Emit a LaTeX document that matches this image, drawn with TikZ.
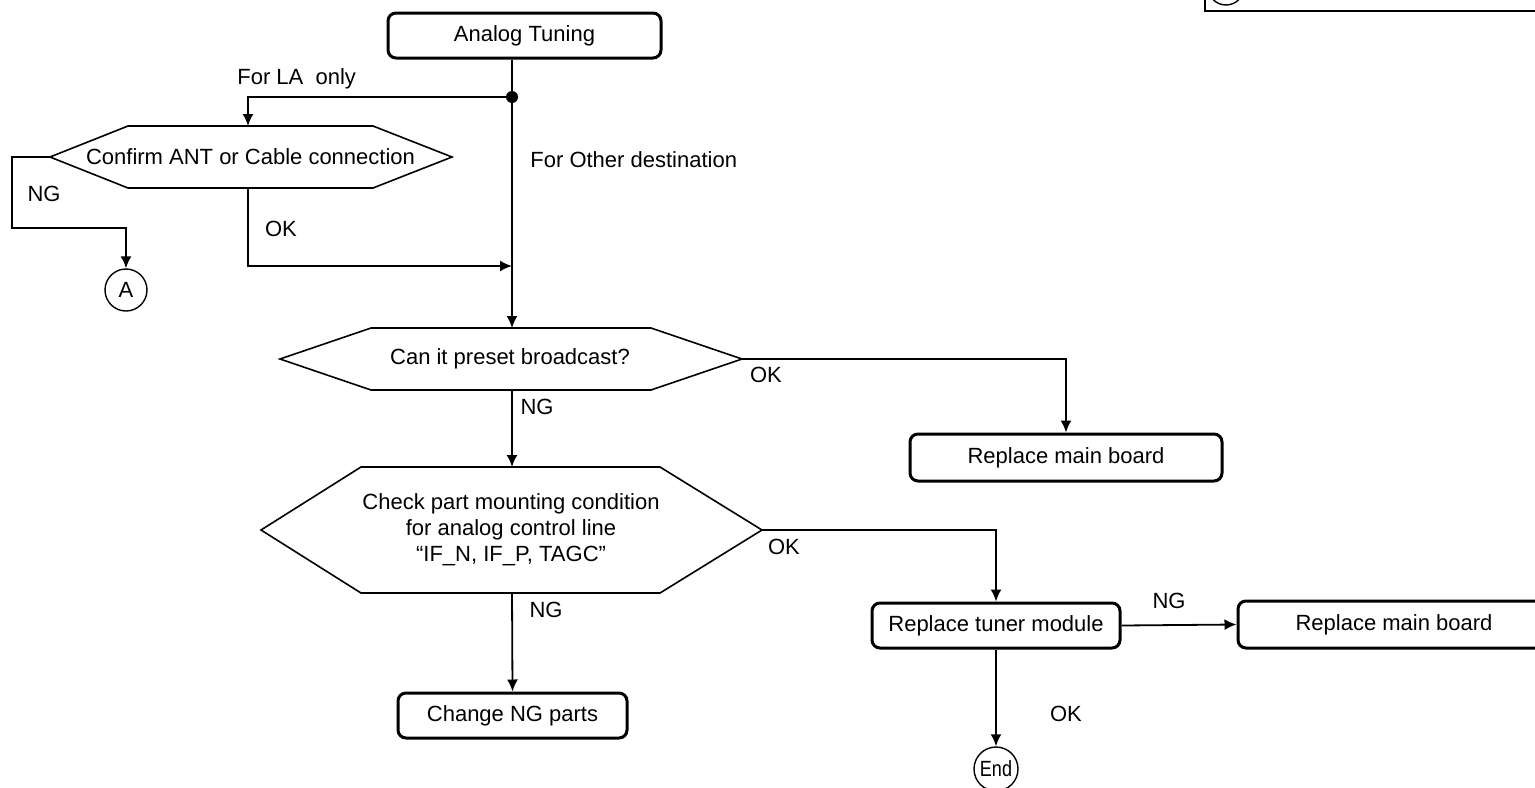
\documentclass[tikz,border=0pt]{standalone}
\usepackage{fontspec}
\usepackage{graphicx}
\setmainfont{Liberation Sans}
\usetikzlibrary{arrows.meta,calc}
\begin{document}
\begin{tikzpicture}[x=0.5pt,y=-0.5pt,
  every node/.style={font=\fontsize{11}{13}\selectfont},
  procbox/.style={draw, line width=1.5pt, rounded corners=4pt, inner sep=0pt},
  hexline/.style={line width=0.8pt},
  conn/.style={line width=0.9pt},
  arr/.style={conn,-{Latex[length=6pt,width=5.5pt]}},
  lbl/.style={inner sep=0pt},
  termc/.style={draw, circle, line width=0.7pt, minimum size=21pt, inner sep=0pt}]
\useasboundingbox (0,0) rectangle (1535,787);

% legend box (cut off)
\draw[line width=0.9pt] (1205,-40) rectangle (1600,11);
\draw[line width=0.7pt] (1226,-13) circle (9pt);

% process boxes
\node[procbox, minimum width=136.5pt, minimum height=22.5pt] (analog) at (524.5,35.5) {Analog Tuning};
\node[procbox, minimum width=156pt, minimum height=23.5pt] (rmb1) at (1066,457.5) {Replace main board};
\node[procbox, minimum width=114.5pt, minimum height=22.5pt] (ngp) at (512.5,715.5) {Change NG parts};
\node[procbox, minimum width=124pt, minimum height=22.5pt] (tuner) at (996,625.5) {Replace tuner module};
\node[procbox, minimum width=156pt, minimum height=23.5pt] (rmb2) at (1394,624.5) {Replace main board};

% terminals
\node[termc] (A) at (126,290) {A};
\node[termc, minimum size=22pt] (end) at (996,769) {\scalebox{0.82}[1]{End}};

% hexagon: Confirm
\node[lbl] (conf) at (250.5,157) {Confirm ANT or Cable connection};
\coordinate (confN) at (248,126);
\coordinate (confS) at (248,188);
\coordinate (confL) at (50,157);
\coordinate (confR) at (452,157);
\draw[hexline] (128,126) -- (373,126) -- (confR) -- (373,188) -- (128,188) -- (confL) -- cycle;

% hexagon: Can it preset
\node[lbl] (can) at (510,359) {Can it preset broadcast?};
\coordinate (canN) at (512,328);
\coordinate (canS) at (512,390);
\coordinate (canL) at (280,359);
\coordinate (canR) at (742,359);
\draw[hexline] (371,328) -- (651,328) -- (canR) -- (651,390) -- (371,390) -- (canL) -- cycle;

% hexagon: Check
\node[lbl, align=center] (chk) at (511,530) {Check part mounting condition\\for analog control line\\“IF\_N, IF\_P, TAGC”};
\coordinate (chkN) at (512,467);
\coordinate (chkS) at (512,593);
\coordinate (chkL) at (261,530);
\coordinate (chkR) at (762,530);
\draw[hexline] (361,467) -- (660,467) -- (chkR) -- (660,593) -- (361,593) -- (chkL) -- cycle;

% junctions
\coordinate (dot) at (512,97);
\coordinate (la) at (248,97);
\fill (dot) circle (3pt);

% connectors
\draw[conn] (analog.south -| dot) -- (dot);
\draw[arr] (dot) -- (canN);
\draw[arr] (dot) -- (la) -- (confN);
\draw[arr] (confL) -- ++(-38,0) |- ($(A.north)+(0,-40)$) -- (A.north);
\draw[arr] (confS) |- ($(dot)+(0,169)$);
\draw[arr] (canR) -| (rmb1.north);
\draw[arr] (canS) -- (chkN);
\draw[arr] (chkR) -| (tuner.north);
\draw[arr] (chkS) -- (ngp.north);
\draw[arr] (tuner.east) -- (rmb2.west);
\draw[arr] (tuner.south) -- (end.north);

% labels
\node[lbl, anchor=west] (l1) at (237,79) {For LA~ only};
\node[lbl, anchor=west] (l2) at (530,160) {For Other destination};
\node[lbl] (l3) at (44,194) {NG};
\node[lbl] (l4) at (281,229) {OK};
\node[lbl] (l5) at (766,375) {OK};
\node[lbl] (l6) at (537,407) {NG};
\node[lbl] (l7) at (784,547) {OK};
\node[lbl] (l8) at (546,610) {NG};
\node[lbl] (l9) at (1169,601) {NG};
\node[lbl] (l10) at (1066,714) {OK};
\end{tikzpicture}
\end{document}
